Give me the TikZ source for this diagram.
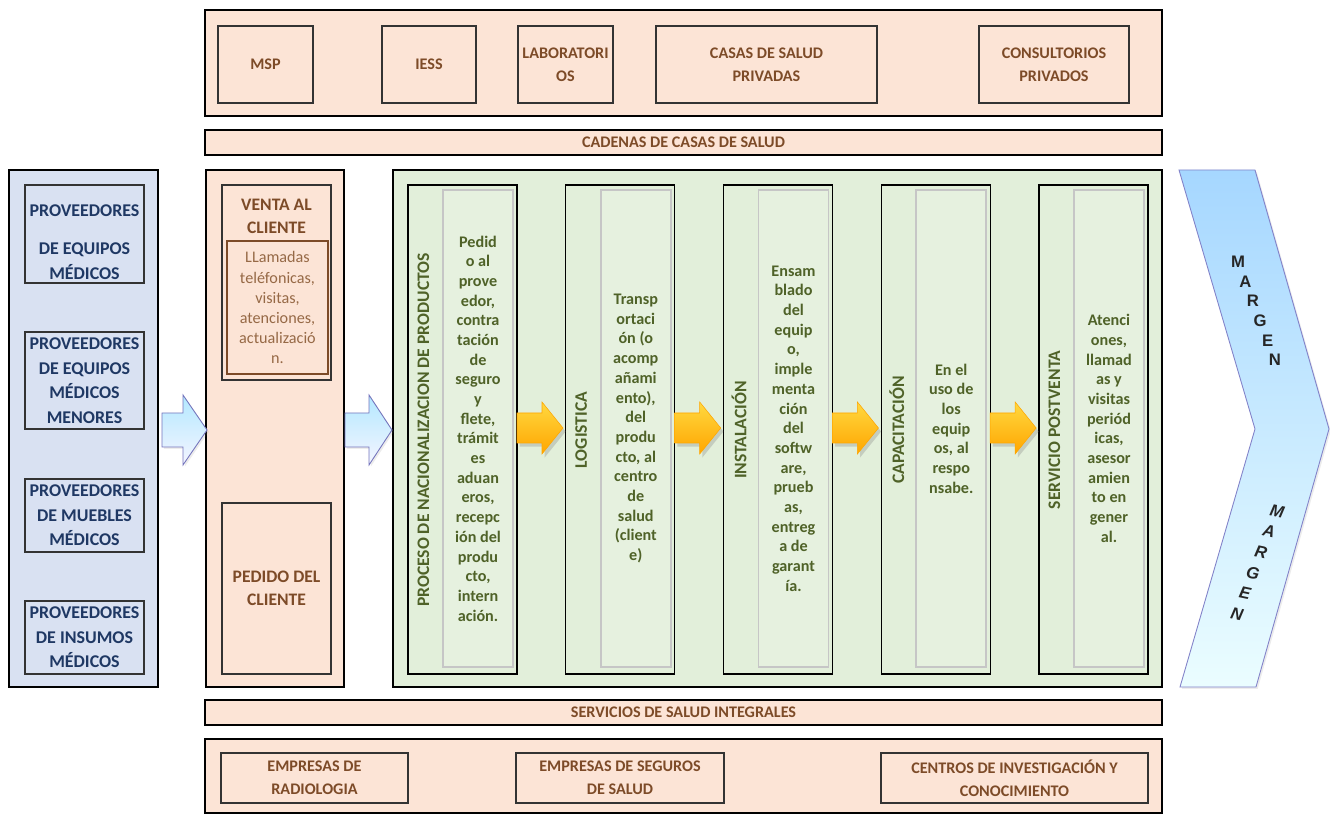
\documentclass[tikz,border=0pt]{standalone}
\usepackage{fontspec}
\setmainfont{Carlito}
\newfontfamily\arialfont{Liberation Sans}
\usetikzlibrary{shadows}

\definecolor{peach}{HTML}{FCE4D6}
\definecolor{lavender}{HTML}{D9E1F2}
\definecolor{sage}{HTML}{E2EFDA}
\definecolor{sagelight}{HTML}{E6F1DF}
\definecolor{brownish}{RGB}{125,75,40}
\definecolor{lightbrown}{RGB}{150,105,70}
\definecolor{navy}{HTML}{1F3864}
\definecolor{olive}{HTML}{4F6228}

\tikzset{
  sz/.style 2 args={minimum width=#1*0.02cm, minimum height=#2*0.02cm},
  frame/.style={draw=black, line width=1.4pt, inner sep=0pt},
  pbox/.style={draw=black!80, line width=0.7pt, fill=peach, inner sep=0pt, align=center,
    text=brownish, font=\fontsize{9.2}{13}\selectfont\bfseries},
  bbox/.style={draw=black!80, line width=0.7pt, fill=lavender, inner sep=0pt, align=center,
    text=navy, font=\fontsize{10.2}{14}\selectfont\bfseries},
  colbox/.style={draw=black, line width=0.7pt, fill=sage, inner sep=0pt},
  txtbox/.style={draw=gray!45, line width=0.9pt, fill=sagelight, inner sep=0pt},
  gtext/.style={align=center, inner sep=0pt, text=olive, font=\fontsize{9.2}{11.2}\selectfont\bfseries},
  vlab/.style={rotate=90, inner sep=0pt, text=olive, font=\fontsize{10}{12}\selectfont\bfseries},
  barrow/.style={draw=blue!35!gray!80, line width=0.5pt, top color=blue!30!cyan!30, bottom color=blue!4,
    drop shadow={opacity=0.15, shadow xshift=1pt, shadow yshift=-1pt}},
  yarrow/.style={draw=orange!70!yellow, line width=0.3pt, top color=yellow!60!orange!75, bottom color=orange!70!yellow,
    drop shadow={opacity=0.3, shadow xshift=1.5pt, shadow yshift=-2pt}},
  chev/.style={draw=blue!40!gray!70, line width=0.5pt, top color=blue!45!cyan!35, bottom color=blue!10!cyan!8,
    drop shadow={opacity=0.15, shadow xshift=1pt, shadow yshift=-1pt}},
  mg/.style={inner sep=0pt, text=black!85, font=\arialfont\fontsize{9.5}{11}\selectfont\bfseries}
}

\begin{document}
\begin{tikzpicture}[x=0.02cm,y=-0.02cm]
\useasboundingbox (0,0) rectangle (1330,814);

% upper band
\node[frame, fill=peach, sz={957}{106}] (topband) at (683.5,63) {};
\node[pbox, sz={95}{77}] (msp) at (265.5,64.5) {MSP};
\node[pbox, sz={94}{77}] (iess) at (429,64.5) {IESS};
\node[pbox, sz={95}{77}] (lab) at (565.5,64.5) {LABORATORI\\OS};
\node[pbox, sz={221}{77}] (casas) at (766.5,64.5) {CASAS DE SALUD\\PRIVADAS};
\node[pbox, sz={150}{77}] (consult) at (1054,64.5) {CONSULTORIOS\\PRIVADOS};
\node[frame, pbox, line width=1.4pt, draw=black, sz={957}{25}] (cadenas) at (683.5,142.5) {CADENAS DE CASAS DE SALUD};

% suppliers
\node[frame, fill=lavender, sz={149}{517}] (prov) at (83.5,428.5) {};
\node[bbox, sz={119}{98}] (prov1) at (84.5,234) {};
\node[bbox, draw=none, fill=none] (prov1txt) at (84.5,242) {PROVEEDORES\\[8pt]DE EQUIPOS\\MÉDICOS};
\node[bbox, sz={119}{97}] (prov2) at (84.5,380.5) {PROVEEDORES\\DE EQUIPOS\\MÉDICOS\\MENORES};
\node[bbox, sz={119}{73}] (prov3) at (84.5,515.5) {PROVEEDORES\\DE MUEBLES\\MÉDICOS};
\node[bbox, sz={119}{73}] (prov4) at (84.5,637.5) {PROVEEDORES\\DE INSUMOS\\MÉDICOS};

% client column
\node[frame, fill=peach, sz={138}{517}] (venta) at (275,428.5) {};
\node[pbox, sz={109}{195}] (ventabox) at (276.5,282.5) {};
\node[pbox, draw=none, fill=none, font=\fontsize{10}{13.4}\selectfont\bfseries] (ventatit) at (276.5,216.5) {VENTA AL\\CLIENTE};
\node[pbox, draw=brownish, line width=0.6pt, sz={101}{133}, text=lightbrown, font=\fontsize{9.2}{11.4}\selectfont] (llamadas) at (277.5,307.5)
  {LLamadas\\teléfonicas,\\visitas,\\atenciones,\\actualizació\\n.};
\node[pbox, sz={109}{171}, font=\fontsize{10}{13.4}\selectfont\bfseries] (pedido) at (276.5,588.5) {PEDIDO DEL\\CLIENTE};

% value chain
\node[frame, fill=sage, sz={769}{517}] (chain) at (777.5,428.5) {};
\foreach \i in {0,...,4}{
  \node[colbox, sz={109}{489}] (col\i) at (462.5+157.75*\i,429.5) {};
  \node[txtbox, sz={70}{477}] (txt\i) at (478+157.75*\i,428.5) {};
}
\foreach \lab [count=\i from 0] in {PROCESO DE NACIONALIZACION DE PRODUCTOS,LOGISTICA,INSTALACIÓN,CAPACITACIÓN,SERVICIO POSTVENTA}
  \node[vlab] (lab\i) at (423.5+157.75*\i,430) {\lab};

\node[gtext] (t0) at (txt0) {Pedid\\o al\\prove\\edor,\\contra\\tación\\de\\seguro\\y\\flete,\\trámit\\es\\aduan\\eros,\\recepc\\ión del\\produ\\cto,\\intern\\ación.};
\node[gtext] (t1) at (txt1) {Transp\\ortaci\\ón (o\\acomp\\añami\\ento),\\del\\produ\\cto, al\\centro\\de\\salud\\(client\\e)};
\node[gtext] (t2) at (txt2) {Ensam\\blado\\del\\equip\\o,\\imple\\menta\\ción\\del\\softw\\are,\\prueb\\as,\\entreg\\a de\\garant\\ía.};
\node[gtext] (t3) at (txt3) {En el\\uso de\\los\\equip\\os, al\\respo\\nsabe.};
\node[gtext] (t4) at (txt4) {Atenci\\ones,\\llamad\\as y\\visitas\\periód\\icas,\\asesor\\amien\\to en\\gener\\al.};

% yellow arrows between the stages
\foreach \i in {0,...,3}
  \draw[yarrow, xshift=\i*3.155cm] (517,413) -- (542,413) -- (542,402) -- (563,428) -- (542,454) -- (542,443) -- (517,443) -- cycle;

% blue arrows
\draw[barrow] (162,413) -- (183,413) -- (183,395) -- (207,430) -- (183,465) -- (183,447) -- (162,447) -- cycle;
\draw[barrow] (345,413) -- (369,413) -- (369,395) -- (392,430) -- (369,465) -- (369,447) -- (345,447) -- cycle;

% margin chevron
\draw[chev] (1179,170) -- (1255,170) -- (1329,429) -- (1256,687) -- (1180,687) -- (1255,429) -- cycle;
\foreach \ch [count=\i from 0] in {M,A,R,G,E,N}
  \node[mg] (mt\i) at (1238+7.4*\i,262+19.6*\i) {\ch};
\foreach \ch [count=\i from 0] in {M,A,R,G,E,N}
  \node[mg, rotate=-12, font=\arialfont\fontsize{9.5}{11}\selectfont\bfseries\itshape] (mb\i) at (1277-8*\i,511+20.6*\i) {\ch};

% lower band
\node[frame, pbox, line width=1.4pt, draw=black, sz={957}{25}] (integrales) at (683.5,712.5) {SERVICIOS DE SALUD INTEGRALES};
\node[frame, fill=peach, sz={957}{74}] (lowband) at (683.5,776) {};
\node[pbox, sz={187}{50}] (radio) at (314.5,778) {EMPRESAS DE\\RADIOLOGIA};
\node[pbox, sz={208}{50}] (seguros) at (620,778) {EMPRESAS DE SEGUROS\\DE SALUD};
\node[pbox, sz={267}{50}] (centros) at (1014.5,778) {CENTROS DE INVESTIGACIÓN Y\\CONOCIMIENTO};
\end{tikzpicture}
\end{document}
